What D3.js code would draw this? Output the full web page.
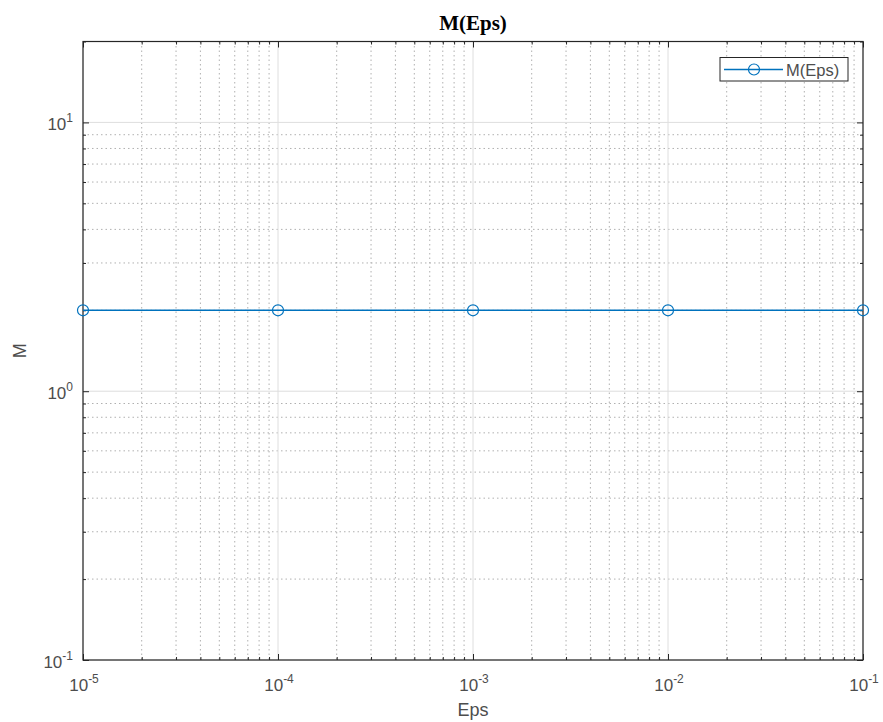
<!DOCTYPE html>
<html>
<head>
<meta charset="utf-8">
<script src="https://cdn.jsdelivr.net/npm/d3@7"></script>
<style>
  body { margin: 0; background: #fff; }
  svg { display: block; font-family: "Liberation Sans", Arial, sans-serif; }
</style>
</head>
<body>
<svg width="883" height="722"></svg>
<script>
const epsValues = [1e-5, 1e-4, 1e-3, 1e-2, 1e-1];
const mValues = [2, 2, 2, 2, 2];
const xDomain = [1e-5, 1e-1];
const yDomain = [0.1, 20];
const xMajorExp = [-5, -4, -3, -2, -1];
const yMajorExp = [-1, 0, 1];

(function () {
  "use strict";
  const svg = d3.select("svg");
  const margin = { top: 41.5, right: 20, bottom: 62, left: 83 };
  const width = +svg.attr("width");
  const height = +svg.attr("height");
  const innerWidth = width - margin.left - margin.right;
  const innerHeight = height - margin.top - margin.bottom;
  const grey = "#262626";
  const labelGrey = "#4d4d4d";

  const x = d3.scaleLog().domain(xDomain).range([0, innerWidth]);
  const y = d3.scaleLog().domain(yDomain).range([innerHeight, 0]);

  const g = svg.append("g")
    .attr("transform", `translate(${margin.left},${margin.top})`);

  // minor ticks within the domain
  const minorOf = (scale) => {
    const [a, b] = scale.domain();
    const out = [];
    for (let e = Math.floor(Math.log10(a)); e <= Math.ceil(Math.log10(b)); e++) {
      for (let k = 2; k <= 9; k++) {
        const v = k * Math.pow(10, e);
        if (v >= a * 0.999 && v <= b * 1.001) out.push(v);
      }
    }
    return out;
  };
  const xMinor = minorOf(x);
  const yMinor = minorOf(y);
  const xMajor = xMajorExp.map((e) => Math.pow(10, e));
  const yMajor = yMajorExp.map((e) => Math.pow(10, e));

  // grid
  const grid = g.append("g");
  grid.selectAll(".xminor").data(xMinor).enter().append("line")
    .attr("x1", (d) => x(d)).attr("x2", (d) => x(d))
    .attr("y1", 0).attr("y2", innerHeight)
    .attr("stroke", "#b0b0b0").attr("stroke-width", 1)
    .attr("stroke-dasharray", "1.5,3");
  grid.selectAll(".yminor").data(yMinor).enter().append("line")
    .attr("y1", (d) => y(d)).attr("y2", (d) => y(d))
    .attr("x1", 0).attr("x2", innerWidth)
    .attr("stroke", "#b0b0b0").attr("stroke-width", 1)
    .attr("stroke-dasharray", "1.5,3");
  grid.selectAll(".xmajor").data(xMajor).enter().append("line")
    .attr("x1", (d) => x(d)).attr("x2", (d) => x(d))
    .attr("y1", 0).attr("y2", innerHeight)
    .attr("stroke", "#dedede").attr("stroke-width", 1);
  grid.selectAll(".ymajor").data(yMajor).enter().append("line")
    .attr("y1", (d) => y(d)).attr("y2", (d) => y(d))
    .attr("x1", 0).attr("x2", innerWidth)
    .attr("stroke", "#dedede").attr("stroke-width", 1);

  // axes with inward ticks
  const fmt = () => "";
  const tickAxis = (axis, scale, vals, size, transform) => {
    g.append("g")
      .attr("transform", transform)
      .call(axis(scale).tickValues(vals).tickSize(size).tickFormat(fmt))
      .call((s) => s.select(".domain").remove())
      .call((s) => s.selectAll(".tick line").attr("stroke", grey));
  };
  tickAxis(d3.axisBottom, x, xMajor, -6, `translate(0,${innerHeight})`);
  tickAxis(d3.axisBottom, x, xMinor, -3, `translate(0,${innerHeight})`);
  tickAxis(d3.axisTop, x, xMajor, -6, "translate(0,0)");
  tickAxis(d3.axisTop, x, xMinor, -3, "translate(0,0)");
  tickAxis(d3.axisLeft, y, yMajor, -6, "translate(0,0)");
  tickAxis(d3.axisLeft, y, yMinor, -3, "translate(0,0)");
  tickAxis(d3.axisRight, y, yMajor, -6, `translate(${innerWidth},0)`);
  tickAxis(d3.axisRight, y, yMinor, -3, `translate(${innerWidth},0)`);

  g.append("rect")
    .attr("width", innerWidth).attr("height", innerHeight)
    .attr("fill", "none").attr("stroke", grey).attr("stroke-width", 1.2);

  // tick labels (10 with superscript)
  const powLabel = (sel, e) => {
    sel.append("tspan").text("10");
    sel.append("tspan").attr("dy", -8).attr("font-size", 12).text(e);
  };
  xMajorExp.forEach((e) => {
    const t = g.append("text")
      .attr("x", x(Math.pow(10, e)) + 1).attr("y", innerHeight + 31)
      .attr("text-anchor", "middle")
      .attr("fill", labelGrey).attr("font-size", 17);
    powLabel(t, e);
  });
  yMajorExp.forEach((e) => {
    const t = g.append("text")
      .attr("x", -10).attr("y", y(Math.pow(10, e)) + 7.5)
      .attr("text-anchor", "end")
      .attr("fill", labelGrey).attr("font-size", 17);
    powLabel(t, e);
  });

  // line and markers
  const data = epsValues.map((v, i) => ({ eps: v, m: mValues[i] }));
  const blue = "#0072BD";
  g.append("path")
    .datum(data)
    .attr("fill", "none").attr("stroke", blue).attr("stroke-width", 1.5)
    .attr("d", d3.line().x((d) => x(d.eps)).y((d) => y(d.m)));
  g.selectAll(".pt").data(data).enter().append("circle")
    .attr("cx", (d) => x(d.eps)).attr("cy", (d) => y(d.m))
    .attr("r", 5.5).attr("fill", "none").attr("stroke", blue).attr("stroke-width", 1.2);

  // title and axis labels
  svg.append("text")
    .attr("x", margin.left + innerWidth / 2).attr("y", 30)
    .attr("text-anchor", "middle")
    .attr("font-family", "'Liberation Serif', 'Times New Roman', serif")
    .attr("font-weight", "bold").attr("font-size", 21).attr("fill", "#000")
    .text("M(Eps)");
  svg.append("text")
    .attr("x", margin.left + innerWidth / 2).attr("y", 716)
    .attr("text-anchor", "middle")
    .attr("fill", labelGrey).attr("font-size", 18)
    .text("Eps");
  svg.append("text")
    .attr("transform", `translate(26,${margin.top + innerHeight / 2}) rotate(-90)`)
    .attr("text-anchor", "middle")
    .attr("fill", labelGrey).attr("font-size", 18)
    .text("M");

  // legend
  const lg = svg.append("g").attr("transform", "translate(720,57.5)");
  lg.append("rect").attr("width", 128).attr("height", 23.5)
    .attr("fill", "#fff").attr("stroke", grey).attr("stroke-width", 1);
  lg.append("line").attr("x1", 4).attr("x2", 63).attr("y1", 12).attr("y2", 12)
    .attr("stroke", blue).attr("stroke-width", 1.5);
  lg.append("circle").attr("cx", 34).attr("cy", 12).attr("r", 5.5)
    .attr("fill", "none").attr("stroke", blue).attr("stroke-width", 1.2);
  lg.append("text").attr("x", 66).attr("y", 18)
    .attr("fill", labelGrey).attr("font-size", 16.5).text("M(Eps)");
})();
</script>
</body>
</html>
